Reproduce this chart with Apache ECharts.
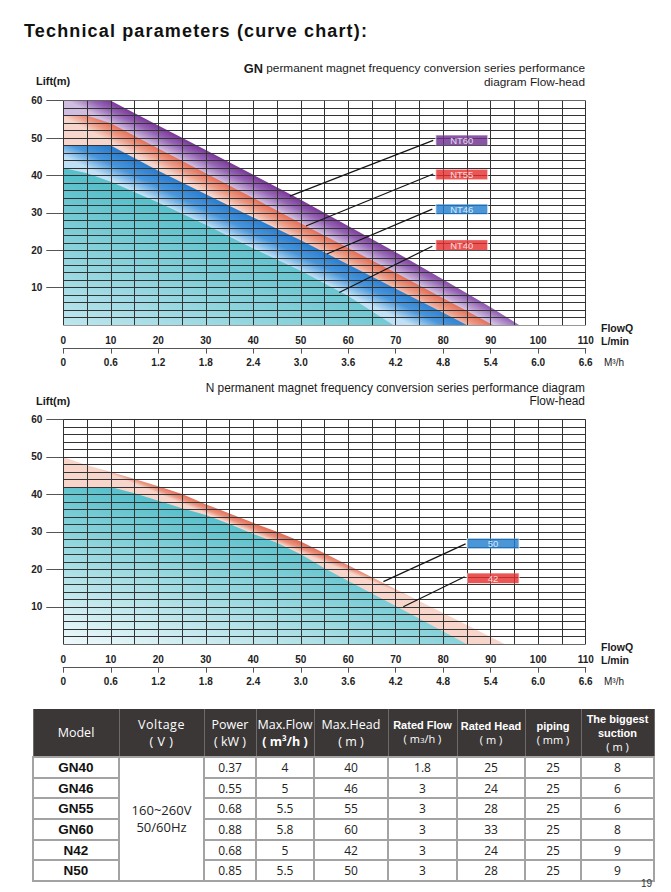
<!DOCTYPE html>
<html><head><meta charset="utf-8">
<script src="https://cdn.jsdelivr.net/npm/echarts@6/dist/echarts.min.js"></script>
<style>
html,body{margin:0;padding:0;background:#fff;width:671px;height:892px;overflow:hidden;}
#chart{position:absolute;left:0;top:0;width:671px;height:705px;}
#ttl{position:absolute;left:24px;top:21px;font-family:"Liberation Sans",Arial,sans-serif;font-weight:bold;font-size:18px;letter-spacing:1.15px;color:#111;white-space:nowrap;}
#tbl{position:absolute;left:32px;top:709px;border-collapse:collapse;table-layout:fixed;width:621px;}
#tbl th{background:#3b3737;color:#fff;font-family:"Open Sans","Noto Sans",sans-serif;font-weight:normal;font-size:12.5px;line-height:17px;height:47px;padding:0;border-left:1px solid #6e6a6a;border-right:1px solid #6e6a6a;text-align:center;vertical-align:middle;}
#tbl th.b{font-family:"Liberation Sans",Arial,sans-serif;font-weight:bold;font-size:11px;line-height:14px;}
#tbl th.b span.r{font-family:"Open Sans","Noto Sans",sans-serif;font-weight:normal;font-size:11px;}
#tbl td{border:2px solid #a3a3a3;height:18.7px;padding:0;text-align:center;vertical-align:middle;font-family:"Open Sans","Noto Sans",sans-serif;font-size:12px;color:#222;background:#fff;}
#tbl td.m{font-family:"Liberation Sans",Arial,sans-serif;font-weight:bold;font-size:13.5px;color:#111;}
#tbl td.v{font-size:13px;line-height:17px;}
#pg{position:absolute;left:641px;top:878px;font-family:"Liberation Sans",Arial,sans-serif;font-size:10px;color:#333;}
</style></head>
<body>
<div id="chart"></div>
<div id="ttl">Technical parameters (curve chart):</div>
<table id="tbl">
<colgroup><col style="width:86px"><col style="width:85px"><col style="width:52px"><col style="width:58px"><col style="width:74px"><col style="width:69px"><col style="width:68px"><col style="width:56px"><col style="width:73px"></colgroup>
<thead><tr id="hdr"></tr></thead>
<tbody id="tb"></tbody>
</table>
<div id="pg">19</div>
<script>
// ---------- data ----------
const flowTicks = [0,10,20,30,40,50,60,70,80,90,100,110];
const m3hTicks  = ['0','0.6','1.2','1.8','2.4','3.0','3.6','4.2','4.8','5.4','6.0','6.6'];
const liftTicks = [10,20,30,40,50,60];

// GN series (flow L/min, head m)
const nt60Flow = [0,10,20,30,40,50,60,70,80,90,96];
const nt60Head = [60,60,53.4,46.8,40.2,33.5,26.5,19.5,12.2,4.8,0];
const nt55Flow = [0,5,10,20,30,40,50,60,70,80,90.5];
const nt55Head = [56,56,54,47.2,40.6,34,27.2,20.6,14,7.2,0];
const nt46Flow = [0,10,20,30,40,50,60,70,80,85];
const nt46Head = [48,48,41.3,35,28.8,22.7,16.2,9.7,3.3,0];
const nt40Flow = [0,5,10,20,30,40,50,60,69.5];
const nt40Head = [42,40.6,38.3,32.8,26.8,20.5,14.5,7.8,0];

// N series
const n50Flow = [0,5,10,15,20,25,30,35,40,45,50,55,60,70,80,90,93];
const n50Head = [50,47.8,46,44.1,42.2,40.1,37.4,34.9,32.4,30,27.4,24.3,21.1,14.7,8.3,1.9,0];
const n42Flow = [0,5,10,15,20,25,30,35,40,45,50,55,60,70,80,85];
const n42Head = [42,42,42,40.3,38.3,36.3,34.5,32.1,29.4,27.1,24,20.3,16.9,10.2,3.4,0];

// table
const tblModels     = ['GN40','GN46','GN55','GN60','N42','N50'];
const tblVoltage    = '160~260V\n50/60Hz';
const tblPower      = ['0.37','0.55','0.68','0.88','0.68','0.85'];
const tblMaxFlow    = ['4','5','5.5','5.8','5','5.5'];
const tblMaxHead    = ['40','46','55','60','42','50'];
const tblRatedFlow  = ['1.8','3','3','3','3','3'];
const tblRatedHead  = ['25','24','28','33','24','28'];
const tblPiping     = ['25','25','25','25','25','25'];
const tblSuction    = ['8','6','6','8','9','9'];

// ---------- table build ----------
const hdr = document.getElementById('hdr');
hdr.innerHTML =
 '<th>Model</th>'+
 '<th style="letter-spacing:0.5px">Voltage<br>( V )</th>'+
 '<th>Power<br>( kW )</th>'+
 '<th>Max.Flow<br><b>( m³/h )</b></th>'+
 '<th>Max.Head<br>( m )</th>'+
 '<th class="b">Rated Flow<br><span class="r">( m<span style="font-size:8px">3</span>/h )</span></th>'+
 '<th class="b">Rated Head<br><span class="r">( m )</span></th>'+
 '<th class="b">piping<br><span class="r">( mm )</span></th>'+
 '<th class="b">The biggest<br>suction<br><span class="r">( m )</span></th>';
const tb = document.getElementById('tb');
tblModels.forEach((m,i)=>{
  const tr = document.createElement('tr');
  let h = '<td class="m">'+m+'</td>';
  if(i===0) h += '<td class="v" rowspan="'+tblModels.length+'">'+tblVoltage.replace('\n','<br>')+'</td>';
  h += '<td>'+tblPower[i]+'</td><td>'+tblMaxFlow[i]+'</td><td>'+tblMaxHead[i]+'</td><td>'+tblRatedFlow[i]+'</td><td>'+tblRatedHead[i]+'</td><td>'+tblPiping[i]+'</td><td>'+tblSuction[i]+'</td>';
  tr.innerHTML = h;
  tb.appendChild(tr);
});

// ---------- chart ----------
const zip = (a,b)=>a.map((v,i)=>[v,b[i]]);
const chart = echarts.init(document.getElementById('chart'), null, {renderer:'svg'});

const gridColor = '#333333';
const tickFont = {fontSize:10, fontWeight:'bold', color:'#222', fontFamily:'"Liberation Sans", Arial, sans-serif'};

function axesFor(gi){
  return {
    x: [
      {gridIndex:gi, type:'value', min:0, max:110, interval:10,
       axisLine:{show:false}, axisTick:{show:false}, axisLabel:{show:false}, splitLine:{show:false}},
      {gridIndex:gi, type:'value', min:0, max:110, interval:10, position:'bottom', offset:23.5,
       axisLine:{show:true, lineStyle:{color:'#555', width:1.2}},
       axisTick:{show:true, length:5, lineStyle:{color:'#555'}},
       axisLabel:Object.assign({inside:true, margin:3, formatter:v=>String(v)}, tickFont),
       splitLine:{show:false}},
      {gridIndex:gi, type:'value', min:0, max:110, interval:10, position:'bottom', offset:23.5,
       axisLine:{show:false}, axisTick:{show:false},
       axisLabel:Object.assign({margin:9, formatter:v=>m3hTicks[flowTicks.indexOf(v)]}, tickFont),
       splitLine:{show:false}}
    ],
    y: {gridIndex:gi, type:'value', min:0, max:60, interval:10,
        axisLine:{show:false},
        axisTick:{show:true, length:17, customValues:liftTicks, lineStyle:{color:'#555'}},
        axisLabel:Object.assign({margin:21, customValues:liftTicks}, tickFont),
        splitLine:{show:false}}
  };
}
const a0 = axesFor(0), a1 = axesFor(1);

// grid lines overlay (drawn above the filled areas): every 5 L/min and every 2 m
function gridOverlay(xi, yi){
  const d = [];
  for(let x=0; x<=110; x+=5) d.push({coords:[[x,0],[x,60]]});
  for(let y=0; y<=60; y+=2) d.push({coords:[[0,y],[110,y]]});
  return {type:'lines', coordinateSystem:'cartesian2d', xAxisIndex:xi, yAxisIndex:yi, data:d, z:4, silent:true,
          lineStyle:{color:gridColor, width:1, opacity:1}, animation:false};
}

function areaSeries(name, data, xi, yi, color){
  return {name, type:'line', xAxisIndex:xi, yAxisIndex:yi, data, symbol:'none', silent:true,
          lineStyle:{width:0}, areaStyle:{color, opacity:1}, z:2, animation:false};
}

const tealGN = new echarts.graphic.LinearGradient(0,1,0.45,0.35,[{offset:0,color:'#bfe6ee'},{offset:1,color:'#58c0cb'}]);
const tealN  = new echarts.graphic.LinearGradient(0,1,0.5,0.3,[{offset:0,color:'#f0f9fb'},{offset:1,color:'#5ac1cc'}]);

const labelFont = {fontFamily:'"Liberation Sans", Arial, sans-serif', fontSize:9.5, color:'#fff'};

const gnTags = [
  {name:'NT60', value:[83.9,49.4], itemStyle:{color:'#6a2c8c'}},
  {name:'NT55', value:[83.9,40.3], itemStyle:{color:'#e52a2a'}},
  {name:'NT46', value:[83.9,31.0], itemStyle:{color:'#1e7ccc'}},
  {name:'NT40', value:[83.9,21.4], itemStyle:{color:'#e52a2a'}}
];
const gnLeaders = [
  {coords:[[77.9,49.4],[47.7,34.5]]},
  {coords:[[77.9,40.4],[51.1,26.5]]},
  {coords:[[77.7,31.0],[55.5,19.0]]},
  {coords:[[77.7,21.1],[58.1,8.7]]}
];
const nTags = [
  {name:'50', value:[90.5,26.9], itemStyle:{color:'#1e7ccc'}},
  {name:'42', value:[90.5,17.6], itemStyle:{color:'#e52a2a'}}
];
const nLeaders = [
  {coords:[[84.7,26.8],[67.4,16.7]]},
  {coords:[[84.5,18.0],[71.6,10.0]]}
];

function tagSeries(data, xi, yi){
  return {type:'scatter', xAxisIndex:xi, yAxisIndex:yi, data, symbol:'rect', symbolSize:[52,10], z:6, silent:true,
          itemStyle:{borderColor:'rgba(255,255,255,0.7)', borderWidth:0.6},
          label:Object.assign({show:true, position:'inside', formatter:p=>p.name}, labelFont), animation:false};
}
function leaderSeries(data, xi, yi){
  return {type:'lines', coordinateSystem:'cartesian2d', xAxisIndex:xi, yAxisIndex:yi, data, z:6, silent:true,
          lineStyle:{color:'#151515', width:1.2, opacity:1}, animation:false};
}

const subFont = '"Liberation Sans Narrow","Liberation Sans",Arial,sans-serif';
function txt(x,y,text,opts){
  return {type:'text', x, y, silent:true, style:Object.assign({text, fill:'#1a1a1a', textVerticalAlign:'middle', textAlign:'left'}, opts)};
}

const option = {
  animation:false,
  grid:[
    {left:63.3, top:100.7, width:522.4, height:224.4},
    {left:63.3, top:419.5, width:522.4, height:224.7}
  ],
  xAxis:[...a0.x, ...a1.x],
  yAxis:[a0.y, a1.y],
  graphic:[
    txt(585,68,'{b|GN} permanent magnet frequency conversion series performance',{textAlign:'right', fontSize:11.8, fontFamily:subFont,
        rich:{b:{fontWeight:'bold', fontSize:12.8, fontFamily:'"Liberation Sans", Arial, sans-serif'}}}),
    txt(585,81.5,'diagram Flow-head',{textAlign:'right', fontSize:11.8, fontFamily:subFont}),
    txt(36,81,'Lift(m)',{fontSize:11, fontWeight:'bold', fontFamily:'"Liberation Sans", Arial, sans-serif'}),
    txt(601,328,'FlowQ',{fontSize:10.5, fontFamily:subFont, fontWeight:'bold'}),
    txt(601,341,'L/min',{fontSize:10.5, fontFamily:subFont, fontWeight:'bold'}),
    txt(604,362.5,'M³/h',{fontSize:10, fontFamily:subFont}),
    txt(585,387.5,'N permanent magnet frequency conversion series performance diagram',{textAlign:'right', fontSize:11.9, fontFamily:subFont}),
    txt(585,401,'Flow-head',{textAlign:'right', fontSize:11.9, fontFamily:subFont}),
    txt(36,400.5,'Lift(m)',{fontSize:11, fontWeight:'bold', fontFamily:'"Liberation Sans", Arial, sans-serif'}),
    txt(601,647,'FlowQ',{fontSize:10.5, fontFamily:subFont, fontWeight:'bold'}),
    txt(601,660,'L/min',{fontSize:10.5, fontFamily:subFont, fontWeight:'bold'}),
    txt(604,681.5,'M³/h',{fontSize:10, fontFamily:subFont})
  ],
  series:[
    areaSeries('NT60', zip(nt60Flow,nt60Head), 0, 0, '#8c52ad'),
    areaSeries('NT55', zip(nt55Flow,nt55Head), 0, 0, '#ec8a74'),
    areaSeries('NT46', zip(nt46Flow,nt46Head), 0, 0, '#3a8ad6'),
    areaSeries('NT40', zip(nt40Flow,nt40Head), 0, 0, tealGN),
    gridOverlay(0, 0),
    leaderSeries(gnLeaders, 0, 0),
    tagSeries(gnTags, 0, 0),
    areaSeries('50', zip(n50Flow,n50Head), 3, 1, '#ec8a74'),
    areaSeries('42', zip(n42Flow,n42Head), 3, 1, tealN),
    gridOverlay(3, 1),
    leaderSeries(nLeaders, 3, 1),
    tagSeries(nTags, 3, 1)
  ]
};
chart.setOption(option);

// ---------- band gradients perpendicular to each band ----------
function interp(xs, ys, x){
  for(let i=1;i<xs.length;i++){ if(x<=xs[i]){ const t=(x-xs[i-1])/(xs[i]-xs[i-1]); return ys[i-1]+t*(ys[i]-ys[i-1]); } }
  return ys[ys.length-1];
}
function bandGrad(upF, upH, loF, loH, xm, xi, yi, stops){
  const f = {xAxisIndex:xi, yAxisIndex:yi};
  const U = chart.convertToPixel(f, [xm, interp(upF,upH,xm)]);
  const A = chart.convertToPixel(f, [xm-8, interp(upF,upH,xm-8)]);
  const B = chart.convertToPixel(f, [xm+8, interp(upF,upH,xm+8)]);
  const Lv = chart.convertToPixel(f, [xm, interp(loF,loH,xm)]);
  let dx=B[0]-A[0], dy=B[1]-A[1]; const len=Math.hypot(dx,dy); dx/=len; dy/=len;
  const dist = (Lv[1]-U[1])*dx;
  const nx=-dy, ny=dx;
  return new echarts.graphic.LinearGradient(U[0],U[1],U[0]+nx*dist,U[1]+ny*dist,stops,true);
}
const g60 = bandGrad(nt60Flow,nt60Head,nt55Flow,nt55Head,40,0,0,[{offset:0,color:'#7a3697'},{offset:0.45,color:'#9564b5'},{offset:1,color:'#d0bde0'}]);
const g55 = bandGrad(nt55Flow,nt55Head,nt46Flow,nt46Head,40,0,0,[{offset:0,color:'#e46e57'},{offset:0.5,color:'#ec9a86'},{offset:1,color:'#f6d6cc'}]);
const g46 = bandGrad(nt46Flow,nt46Head,nt40Flow,nt40Head,40,0,0,[{offset:0,color:'#2a7dcf'},{offset:0.5,color:'#4896dc'},{offset:1,color:'#c0e1f5'}]);
const g50 = bandGrad(n50Flow,n50Head,n42Flow,n42Head,45,3,1,[{offset:0,color:'#e06a52'},{offset:0.6,color:'#eb9480'},{offset:1,color:'#f7d5ca'}]);
chart.setOption({series:[
  {areaStyle:{color:g60}}, {areaStyle:{color:g55}}, {areaStyle:{color:g46}}, {}, {}, {}, {},
  {areaStyle:{color:g50}}, {}, {}, {}, {}
]});
</script>
</body></html>
